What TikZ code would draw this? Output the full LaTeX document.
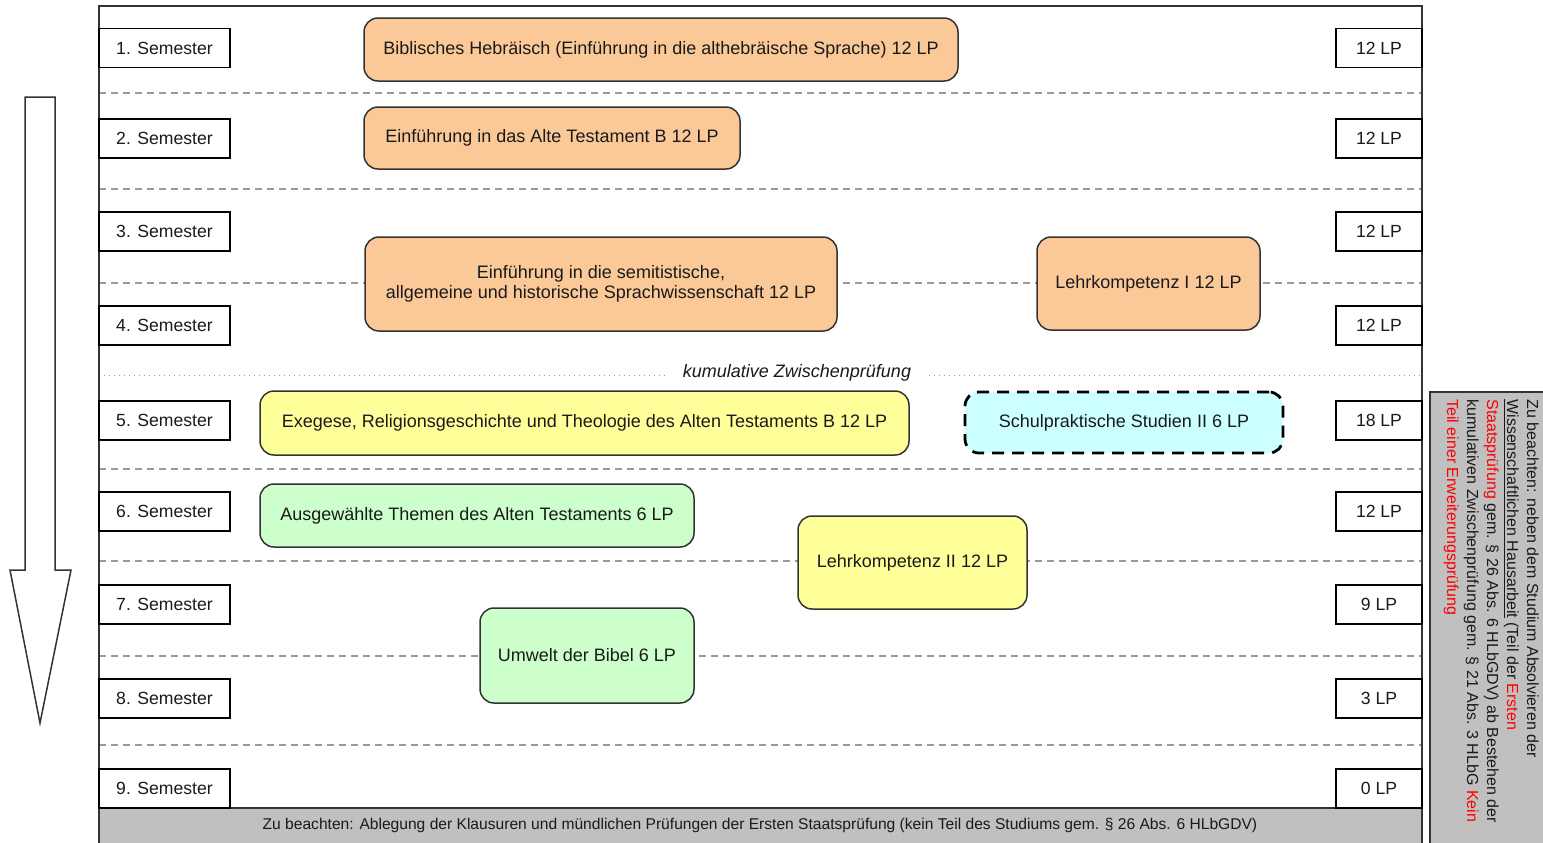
\documentclass[tikz,border=0pt]{standalone}
\usepackage{fontspec}
\setmainfont{Liberation Sans}
\definecolor{txt}{HTML}{1A1A1A}
\definecolor{orangefill}{HTML}{FBC997}
\definecolor{yellowfill}{HTML}{FFFF99}
\definecolor{cyanfill}{HTML}{CCFFFF}
\definecolor{greenfill}{HTML}{CCFFCC}
\definecolor{barfill}{HTML}{C0C0C0}
\definecolor{sepgray}{HTML}{9A9A9A}
\definecolor{edge}{HTML}{333333}
\begin{document}
\begin{tikzpicture}[x=0.5pt,y=-0.5pt,
  every node/.style={text=txt, font=\fontsize{8.8}{11}\selectfont},
  sembox/.style={draw=black, fill=white, line width=0.75pt, minimum width=65.5pt, minimum height=19.5pt, inner sep=0pt},
  lpbox/.style={draw=black, fill=white, line width=0.75pt, minimum width=43pt, minimum height=19.5pt, inner sep=0pt},
  modbox/.style={draw=edge, line width=0.75pt, rounded corners=7pt, inner sep=0pt, align=center, font=\fontsize{9}{11}\selectfont},
  sepline/.style={sepgray, dashed, dash pattern=on 3.5pt off 2.5pt, line width=0.6pt},
  frame/.style={draw=edge, line width=0.8pt}
]
\useasboundingbox (0,0) rectangle (1543,842);

% separators
\foreach \yy in {93,189,283,469,561,656,745}
  \draw[sepline] (99,\yy) -- (1422,\yy);
\draw[sepgray, dotted, line width=0.5pt] (99,375) -- (1420,375);
\node[fill=white, inner xsep=9pt, inner ysep=1pt, font=\fontsize{9}{11}\selectfont\itshape] (kz) at (797,373) {kumulative Zwischenprüfung};

% bottom bar
\draw[frame, fill=barfill] (99,808) rectangle (1422,845);
\node[font=\fontsize{7.8}{9}\selectfont] (bar) at (760,825) {Zu beachten: Ablegung der Klausuren und mündlichen Prüfungen der Ersten Staatsprüfung (kein Teil des Studiums gem. § 26 Abs. 6 HLbGDV)};

% frame
\draw[frame] (99,845) -- (99,6) -- (1422,6) -- (1422,845);

% semester boxes
\node[sembox] (s1) at (164.5,48) {1. Semester};
\node[sembox] (s2) at (164.5,138.5) {2. Semester};
\node[sembox] (s3) at (164.5,231.5) {3. Semester};
\node[sembox] (s4) at (164.5,325.5) {4. Semester};
\node[sembox] (s5) at (164.5,420.5) {5. Semester};
\node[sembox] (s6) at (164.5,511.5) {6. Semester};
\node[sembox] (s7) at (164.5,604.5) {7. Semester};
\node[sembox] (s8) at (164.5,698.5) {8. Semester};
\node[sembox] (s9) at (164.5,788.5) {9. Semester};

% LP boxes
\node[lpbox] (l1) at (1379,48) {12 LP};
\node[lpbox] (l2) at (1379,138.5) {12 LP};
\node[lpbox] (l3) at (1379,231.5) {12 LP};
\node[lpbox] (l4) at (1379,325.5) {12 LP};
\node[lpbox] (l5) at (1379,420.5) {18 LP};
\node[lpbox] (l6) at (1379,511.5) {12 LP};
\node[lpbox] (l7) at (1379,604.5) {9 LP};
\node[lpbox] (l8) at (1379,698.5) {3 LP};
\node[lpbox] (l9) at (1379,788.5) {0 LP};

% modules
\node[modbox, fill=orangefill, minimum width=297pt, minimum height=31.5pt] (b1) at (661,49.5) {Biblisches Hebräisch (Einführung in die althebräische Sprache) 12 LP};
\node[modbox, fill=orangefill, minimum width=188pt, minimum height=31pt] (b2) at (552,138) {Einführung in das Alte Testament B 12 LP};
\node[modbox, fill=orangefill, minimum width=236pt, minimum height=47pt] (b3) at (601,284) {Einführung in die semitistische,\\[-1pt]allgemeine  und historische Sprachwissenschaft 12 LP};
\node[modbox, fill=orangefill, minimum width=111.5pt, minimum height=46.5pt] (b4) at (1148.5,283.5) {Lehrkompetenz I 12 LP};
\node[modbox, fill=yellowfill, minimum width=324.5pt, minimum height=32pt] (b5) at (584.5,423) {Exegese, Religionsgeschichte und Theologie des Alten Testaments B 12 LP};
\node[modbox, fill=cyanfill, draw=black, line width=1.4pt, dash pattern=on 6pt off 4pt, minimum width=159pt, minimum height=30.5pt] (b6) at (1124,422.5) {Schulpraktische Studien II 6 LP};
\node[modbox, fill=greenfill, minimum width=217pt, minimum height=31.5pt] (b7) at (477,515.5) {Ausgewählte Themen des Alten Testaments 6 LP};
\node[modbox, fill=yellowfill, minimum width=114.5pt, minimum height=46.5pt] (b8) at (912.5,562.5) {Lehrkompetenz II 12 LP};
\node[modbox, fill=greenfill, minimum width=107pt, minimum height=47.5pt] (b9) at (587,655.5) {Umwelt der Bibel 6 LP};

% time arrow
\draw[draw=edge, line width=0.75pt, fill=white] (25,97) -- (55,97) -- (55,570) -- (71,570) -- (40,723) -- (10,570) -- (25,570) -- cycle;

% side note
\draw[frame, fill=barfill] (1430,392) rectangle (1548,848);
\node[rotate=-90, anchor=north west, inner sep=0pt, align=left, font=\fontsize{8}{10}\selectfont] (note) at (1539,399)
 {Zu beachten: neben dem Studium Absolvieren der\\
  \underline{Wissenschaftlichen Hausarbeit} (Teil der \textcolor{red}{Ersten}\\
  \textcolor{red}{Staatsprüfung} gem. § 26 Abs. 6 HLbGDV) ab Bestehen der\\
  kumulativen Zwischenprüfung gem. § 21 Abs. 3 HLbG \textcolor{red}{Kein}\\
  \textcolor{red}{Teil einer Erweiterungsprüfung}};
\end{tikzpicture}
\end{document}
